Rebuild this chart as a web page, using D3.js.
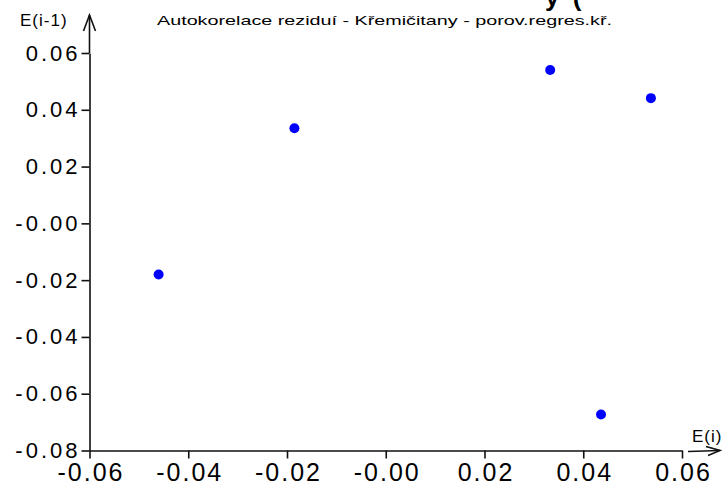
<!DOCTYPE html>
<html>
<head>
<meta charset="utf-8">
<script src="https://cdn.jsdelivr.net/npm/d3@7"></script>
<style>
  html, body { margin: 0; padding: 0; background: #fff; }
  svg { display: block; }
  text { font-family: "Liberation Sans", Arial, sans-serif; fill: #000; }
</style>
</head>
<body>
<svg id="chart" width="725" height="488"></svg>
<script>
// Data: residual lag pairs (E(i), E(i-1))
const eI     = [-0.0460, -0.0185, 0.0333, 0.0537, 0.0436];
const eIm1   = [-0.0180,  0.0335, 0.0540, 0.0441, -0.0673];
const xTicks = [-0.06, -0.04, -0.02, 0.00, 0.02, 0.04, 0.06];
const yTicks = [-0.08, -0.06, -0.04, -0.02, 0.00, 0.02, 0.04, 0.06];
const xTickLabels = ["-0.06", "-0.04", "-0.02", "-0.00", "0.02", "0.04", "0.06"];
const yTickLabels = ["-0.08", "-0.06", "-0.04", "-0.02", "-0.00", "0.02", "0.04", "0.06"];
const title = "Autokorelace reziduí - Křemičitany - porov.regres.kř.";
const xLabel = "E(i)";
const yLabel = "E(i-1)";

const svg = d3.select("#chart");
const pLeft = 89.5, pRight = 682, pTop = 53, pBottom = 450.5;

const x = d3.scaleLinear().domain([-0.06, 0.06]).range([pLeft, pRight]);
const y = d3.scaleLinear().domain([-0.08, 0.06]).range([pBottom, pTop]);

// Cut-off main title at top (only its lower part shows)
svg.append("text")
  .attr("x", 545).attr("y", 6)
  .style("font-size", "26px").style("font-weight", "bold")
  .style("letter-spacing", "3px")
  .text("y (");

// Subtitle
svg.append("text")
  .attr("x", 157).attr("y", 25)
  .attr("textLength", 455).attr("lengthAdjust", "spacingAndGlyphs")
  .style("font-size", "13.5px")
  .text(title);

// X axis
const xAxis = d3.axisBottom(x)
  .tickValues(xTicks)
  .tickFormat((d, i) => xTickLabels[i])
  .tickSize(8).tickPadding(5).tickSizeOuter(0);
const gx = svg.append("g").attr("transform", `translate(0,${pBottom})`).call(xAxis);
gx.select(".domain").attr("stroke", "#111").attr("stroke-width", 1.6);
gx.selectAll(".tick line").attr("stroke", "#111").attr("stroke-width", 1.6);
gx.selectAll(".tick text")
  .style("font-size", "25px").style("letter-spacing", "2px")
  .attr("dx", "1")
  .attr("font-family", null).attr("fill", "#111");

// Y axis
const yAxis = d3.axisLeft(y)
  .tickValues(yTicks)
  .tickFormat((d, i) => yTickLabels[i])
  .tickSize(8).tickPadding(1).tickSizeOuter(0);
const gy = svg.append("g").attr("transform", `translate(${pLeft},0)`).call(yAxis);
gy.select(".domain").attr("stroke", "#111").attr("stroke-width", 1.6);
gy.selectAll(".tick line").attr("stroke", "#111").attr("stroke-width", 1.6);
gy.selectAll(".tick text")
  .style("font-size", "22px").style("letter-spacing", "3px")
  .attr("font-family", null).attr("fill", "#111");

// Y arrow
const arrowStyle = g => g.attr("stroke", "#111").attr("stroke-width", 1.6).attr("fill", "none");
svg.append("line").attr("x1", pLeft).attr("y1", pTop).attr("x2", pLeft).attr("y2", 15).call(arrowStyle);
svg.append("path").attr("d", `M${pLeft - 6},${31} L${pLeft},${15} L${pLeft + 6},${31}`).call(arrowStyle);

// X arrow
svg.append("line").attr("x1", pRight + 6).attr("y1", pBottom + 1).attr("x2", 720).attr("y2", pBottom).call(arrowStyle);
svg.append("path").attr("d", `M${706},${pBottom - 4} L${720},${pBottom} L${708},${pBottom + 5}`).call(arrowStyle);

// Axis labels
svg.append("text").attr("x", 20).attr("y", 26)
  .style("font-size", "17px").style("letter-spacing", "1px").text(yLabel);
svg.append("text").attr("x", 692).attr("y", 442)
  .style("font-size", "17px").style("letter-spacing", "1px").text(xLabel);

// Points
svg.append("g").selectAll("circle")
  .data(eI.map((v, i) => [v, eIm1[i]]))
  .join("circle")
  .attr("cx", d => x(d[0]))
  .attr("cy", d => y(d[1]))
  .attr("r", 5)
  .attr("fill", "#0000ff");
</script>
</body>
</html>
